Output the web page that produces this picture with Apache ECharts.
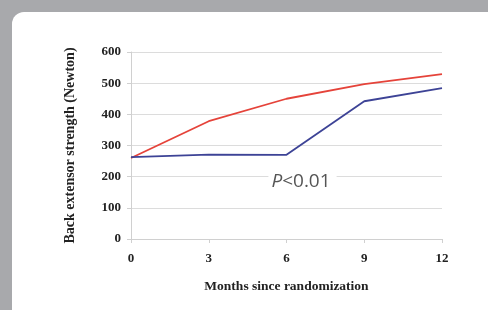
<!DOCTYPE html>
<html><head><meta charset="utf-8">
<script src="https://cdn.jsdelivr.net/npm/echarts@6/dist/echarts.min.js"></script>
<style>html,body{margin:0;padding:0;background:#a8a9ac;}#c{width:488px;height:310px;}</style>
</head><body><div id="c"></div>
<script>
const months = [0, 3, 6, 9, 12];
const redValues = [260, 378, 450, 497, 529];
const blueValues = [263, 271, 270, 442, 484];
const yTicks = [0, 100, 200, 300, 400, 500, 600];
const xTitle = 'Months since randomization';
const yTitle = 'Back extensor strength (Newton)';

const chart = echarts.init(document.getElementById('c'));
const serif = '"Liberation Serif", "Times New Roman", serif';
chart.setOption({
  backgroundColor: '#a8a9ac',
  animation: false,
  graphic: [
    { type: 'rect', z: -10, shape: { x: 12, y: 12, width: 520, height: 340, r: 12 }, style: { fill: '#ffffff' } }
  ],
  grid: { left: 131, right: 46, top: 52, bottom: 71 },
  xAxis: {
    type: 'value', min: 0, max: 12, interval: 3,
    name: xTitle, nameLocation: 'middle', nameGap: 41,
    nameTextStyle: { fontFamily: serif, fontWeight: 'bold', fontSize: 13.5, color: '#222' },
    axisLine: { show: true, lineStyle: { color: '#d0d0d0', width: 1 } },
    axisTick: { show: true, length: 4, lineStyle: { color: '#d0d0d0' } },
    axisLabel: { margin: 13, fontFamily: serif, fontWeight: 'bold', fontSize: 13, color: '#222' },
    splitLine: { show: false }
  },
  yAxis: {
    type: 'value', min: 0, max: 600, interval: 100,
    name: yTitle, nameLocation: 'middle', nameGap: 54,
    nameTextStyle: { fontFamily: serif, fontWeight: 'bold', fontSize: 14, color: '#222' },
    axisLine: { show: true, lineStyle: { color: '#d0d0d0', width: 1 } },
    axisTick: { show: true, length: 4, lineStyle: { color: '#d0d0d0' } },
    axisLabel: { margin: 10, fontFamily: serif, fontWeight: 'bold', fontSize: 13, color: '#222',
      formatter: v => yTicks.includes(v) ? String(v) : '' },
    splitLine: { show: true, lineStyle: { color: '#dcdcdc', width: 1 } }
  },
  series: [
    { type: 'line', data: months.map((m, i) => [m, redValues[i]]), symbol: 'none',
      lineStyle: { color: '#e5433a', width: 1.8 }, z: 3 },
    { type: 'line', data: months.map((m, i) => [m, blueValues[i]]), symbol: 'none',
      lineStyle: { color: '#3d4396', width: 1.8 }, z: 3,
      markPoint: {
        symbol: 'rect', symbolSize: 0,
        data: [{ coord: [6, 200], label: {
          show: true, position: 'inside',
          offset: [16, 5],
          formatter: '{i|P}{n|<0.01}',
          backgroundColor: '#ffffff', padding: [8, 6, 8, 3],
          rich: {
            i: { fontFamily: '"Open Sans", "DejaVu Sans", sans-serif', fontStyle: 'italic', fontSize: 19, color: '#555' },
            n: { fontFamily: '"Open Sans", "DejaVu Sans", sans-serif', fontSize: 19, color: '#555' }
          }
        } }]
      }
    }
  ]
});
</script></body></html>
